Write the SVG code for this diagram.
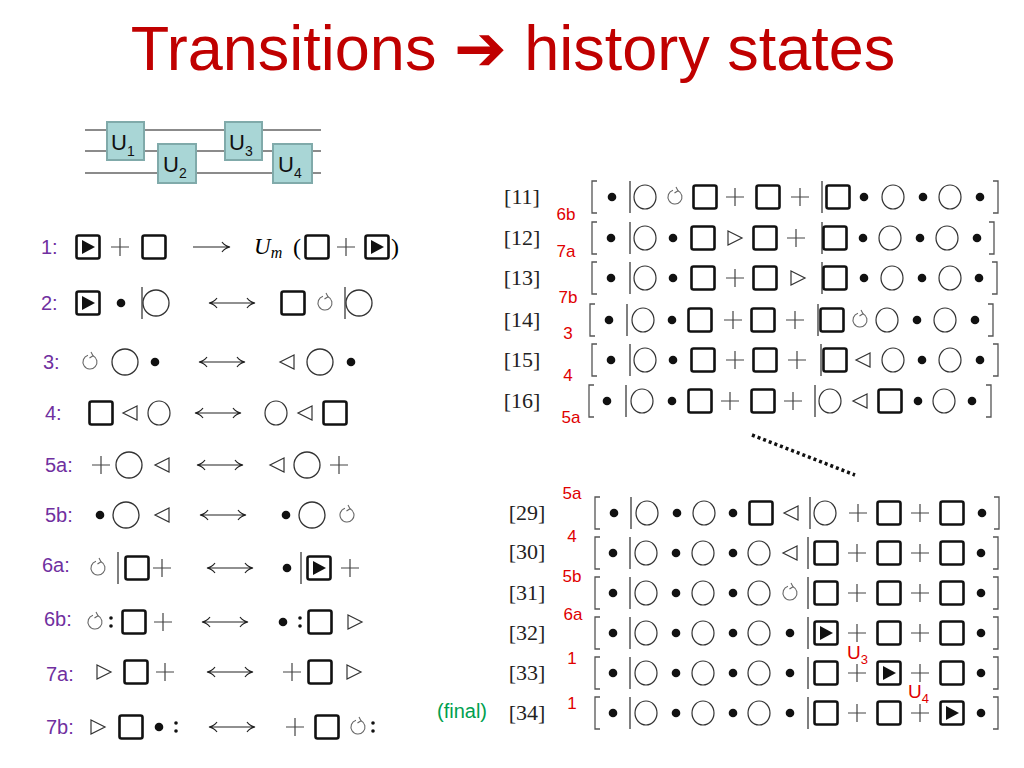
<svg xmlns="http://www.w3.org/2000/svg" xmlns:xlink="http://www.w3.org/1999/xlink" width="1024" height="768" viewBox="0 0 1024 768">
<style>
.t{font-family:"Liberation Sans",Arial,sans-serif}
.title{font-size:63px;fill:#c00000}
.lab{font-size:20px;fill:#7030a0}
.red{font-size:17px;fill:#e00000}
.ref{font-family:"Liberation Serif",serif;font-size:22px;fill:#222}
.w{stroke:#666;stroke-width:1.5;fill:none}
.gate{fill:#a9d6d6;stroke:#80aaaa;stroke-width:2}
.gl{font-size:22px;fill:#111}
.ln{stroke:#222;stroke-width:1.2;fill:none}
</style>
<defs>
<g id="sq"><rect x="-11.5" y="-11.5" width="23" height="23" rx="2" fill="#fff" stroke="#111" stroke-width="2.6"/></g>
<g id="sqp"><use href="#sq"/><polygon points="-6,-7 7,0 -6,7" fill="#111"/></g>
<g id="ci"><ellipse rx="11" ry="12" fill="none" stroke="#333" stroke-width="1.2"/></g>
<g id="cb"><circle r="13" fill="none" stroke="#333" stroke-width="1.3"/></g>
<g id="dt"><circle r="4.3" fill="#111"/></g>
<g id="pl"><path d="M-9,0H9M0,-9V9" stroke="#444" stroke-width="1.2"/></g>
<g id="lt"><polygon points="7,-7 -7,0 7,7" fill="none" stroke="#333" stroke-width="1.2"/></g>
<g id="rt"><polygon points="-7,-7 7,0 -7,7" fill="none" stroke="#333" stroke-width="1.2"/></g>
<g id="ro"><path d="M3,-6.3A7,7 0 1 1 -2,-6.7" fill="none" stroke="#666" stroke-width="1.1"/><path d="M1,-10L3,-6.3L-0.5,-4" fill="none" stroke="#666" stroke-width="1.1"/></g>
<g id="bar"><path d="M0,-16V16" stroke="#555" stroke-width="1.5"/></g>
<g id="bl"><path d="M5,-16H0V16H5" fill="none" stroke="#555" stroke-width="1.3"/></g>
<g id="brr"><path d="M-5,-16H0V16H-5" fill="none" stroke="#555" stroke-width="1.3"/></g>
<g id="cl"><circle cx="0" cy="-4" r="1.8" fill="#111"/><circle cx="0" cy="4" r="1.8" fill="#111"/></g>
<g id="ar"><path d="M-18,0H18M11,-5Q14,-1 19,0Q14,1 11,5" class="ln"/></g>
<g id="da"><path d="M-22,0H22M15,-5Q18,-1 23,0Q18,1 15,5M-15,-5Q-18,-1 -23,0Q-18,1 -15,5" class="ln"/></g>
</defs>

<text class="t title" x="513" y="70" text-anchor="middle">Transitions <tspan font-family="DejaVu Sans,sans-serif" font-weight="bold">➔</tspan> history states</text>

<g id="circuit">
<path class="w" d="M85,130H321M85,151H321M85,173H321"/>
<g id="U1"><rect class="gate" x="107" y="122" width="37" height="38"/><text class="t gl" x="111" y="150">U<tspan font-size="14" dy="6">1</tspan></text></g>
<g id="U2"><rect class="gate" x="158" y="144" width="38" height="39"/><text class="t gl" x="163" y="172">U<tspan font-size="14" dy="6">2</tspan></text></g>
<g id="U3"><rect class="gate" x="225" y="122" width="37" height="38"/><text class="t gl" x="229" y="150">U<tspan font-size="14" dy="6">3</tspan></text></g>
<g id="U4"><rect class="gate" x="273" y="144" width="39" height="39"/><text class="t gl" x="278" y="172">U<tspan font-size="14" dy="6">4</tspan></text></g>
</g>

<g id="rules">
<g transform="translate(0,247)"><text class="t lab" x="41" y="7">1:</text><use href="#sqp" x="88"/><use href="#pl" x="120"/><use href="#sq" x="154"/><use href="#ar" x="211"/><text x="254" y="7" font-family="Liberation Serif,serif" font-size="23" font-style="italic">U<tspan font-size="16" dy="4">m</tspan></text><text x="293" y="8" font-family="Liberation Serif,serif" font-size="24">(</text><use href="#sq" x="317"/><use href="#pl" x="346"/><use href="#sqp" x="377"/><text x="391" y="8" font-family="Liberation Serif,serif" font-size="24">)</text></g>
<g transform="translate(0,303)"><text class="t lab" x="41" y="7">2:</text><use href="#sqp" x="88"/><use href="#dt" x="121"/><use href="#bar" x="142"/><use href="#cb" x="156"/><use href="#da" x="232"/><use href="#sq" x="293"/><use href="#ro" x="325"/><use href="#bar" x="345"/><use href="#cb" x="359"/></g>
<g transform="translate(0,362)"><text class="t lab" x="43" y="7">3:</text><use href="#ro" x="90"/><use href="#cb" x="125"/><use href="#dt" x="155"/><use href="#da" x="222"/><use href="#lt" x="287"/><use href="#cb" x="320"/><use href="#dt" x="351"/></g>
<g transform="translate(0,413)"><text class="t lab" x="45" y="7">4:</text><use href="#sq" x="101"/><use href="#lt" x="130"/><use href="#ci" x="159"/><use href="#da" x="218"/><use href="#ci" x="276"/><use href="#lt" x="305"/><use href="#sq" x="335"/></g>
<g transform="translate(0,465)"><text class="t lab" x="45" y="7">5a:</text><use href="#pl" x="101"/><use href="#cb" x="129"/><use href="#lt" x="162"/><use href="#da" x="220"/><use href="#lt" x="277"/><use href="#cb" x="307"/><use href="#pl" x="339"/></g>
<g transform="translate(0,515)"><text class="t lab" x="45" y="7">5b:</text><use href="#dt" x="100"/><use href="#cb" x="126"/><use href="#lt" x="162"/><use href="#da" x="223"/><use href="#dt" x="286"/><use href="#cb" x="312"/><use href="#ro" x="347"/></g>
<g transform="translate(0,568)"><text class="t lab" x="42" y="4">6a:</text><use href="#ro" x="98"/><use href="#bar" x="118"/><use href="#sq" x="137"/><use href="#pl" x="162"/><use href="#da" x="230"/><use href="#dt" x="287"/><use href="#bar" x="301"/><use href="#sqp" x="319"/><use href="#pl" x="350"/></g>
<g transform="translate(0,622)"><text class="t lab" x="44" y="4">6b:</text><use href="#ro" x="95"/><use href="#cl" x="111"/><use href="#sq" x="134"/><use href="#pl" x="163"/><use href="#da" x="225"/><use href="#dt" x="283"/><use href="#cl" x="300"/><use href="#sq" x="320"/><use href="#rt" x="355"/></g>
<g transform="translate(0,672)"><text class="t lab" x="46" y="9">7a:</text><use href="#rt" x="104"/><use href="#sq" x="136"/><use href="#pl" x="165"/><use href="#da" x="230"/><use href="#pl" x="292"/><use href="#sq" x="320"/><use href="#rt" x="354"/></g>
<g transform="translate(0,727)"><text class="t lab" x="46" y="7">7b:</text><use href="#rt" x="98"/><use href="#sq" x="131"/><use href="#dt" x="159"/><use href="#cl" x="176"/><use href="#da" x="232"/><use href="#pl" x="295"/><use href="#sq" x="327"/><use href="#ro" x="358"/><use href="#cl" x="373"/></g>
</g>

<g id="table1">
<g class="ref"><text x="522" y="204" text-anchor="middle">[11]</text><text x="522" y="245" text-anchor="middle">[12]</text><text x="522" y="285" text-anchor="middle">[13]</text><text x="522" y="327" text-anchor="middle">[14]</text><text x="522" y="367" text-anchor="middle">[15]</text><text x="522" y="408" text-anchor="middle">[16]</text></g>
<g class="t red" text-anchor="middle"><text x="566" y="220">6b</text><text x="566" y="257">7a</text><text x="568" y="303">7b</text><text x="568" y="339">3</text><text x="568" y="381">4</text><text x="571" y="423">5a</text></g>
<g transform="translate(0,197)"><use href="#bl" x="592"/><use href="#dt" x="612"/><use href="#bar" x="630"/><use href="#ci" x="645"/><use href="#ro" x="675"/><use href="#sq" x="705"/><use href="#pl" x="735"/><use href="#sq" x="768"/><use href="#pl" x="800"/><use href="#bar" x="822"/><use href="#sq" x="838"/><use href="#dt" x="864"/><use href="#ci" x="893"/><use href="#dt" x="923"/><use href="#ci" x="950"/><use href="#dt" x="980"/><use href="#brr" x="998"/></g>
<g transform="translate(0,238)"><use href="#bl" x="592"/><use href="#dt" x="611"/><use href="#bar" x="630"/><use href="#ci" x="645"/><use href="#dt" x="673"/><use href="#sq" x="703"/><use href="#rt" x="735"/><use href="#sq" x="765"/><use href="#pl" x="796"/><use href="#bar" x="822"/><use href="#sq" x="835"/><use href="#dt" x="863"/><use href="#ci" x="890"/><use href="#dt" x="920"/><use href="#ci" x="947"/><use href="#dt" x="977"/><use href="#brr" x="994"/></g>
<g transform="translate(0,278)"><use href="#bl" x="592"/><use href="#dt" x="611"/><use href="#bar" x="630"/><use href="#ci" x="645"/><use href="#dt" x="673"/><use href="#sq" x="703"/><use href="#pl" x="735"/><use href="#sq" x="765"/><use href="#rt" x="798"/><use href="#bar" x="822"/><use href="#sq" x="835"/><use href="#dt" x="864"/><use href="#ci" x="892"/><use href="#dt" x="922"/><use href="#ci" x="950"/><use href="#dt" x="979"/><use href="#brr" x="997"/></g>
<g transform="translate(0,320)"><use href="#bl" x="590"/><use href="#dt" x="609"/><use href="#bar" x="627"/><use href="#ci" x="643"/><use href="#dt" x="672"/><use href="#sq" x="700"/><use href="#pl" x="733"/><use href="#sq" x="763"/><use href="#pl" x="795"/><use href="#bar" x="818"/><use href="#sq" x="832"/><use href="#ro" x="860"/><use href="#ci" x="887"/><use href="#dt" x="917"/><use href="#ci" x="945"/><use href="#dt" x="975"/><use href="#brr" x="993"/></g>
<g transform="translate(0,360)"><use href="#bl" x="592"/><use href="#dt" x="611"/><use href="#bar" x="630"/><use href="#ci" x="645"/><use href="#dt" x="673"/><use href="#sq" x="703"/><use href="#pl" x="735"/><use href="#sq" x="765"/><use href="#pl" x="797"/><use href="#bar" x="821"/><use href="#sq" x="835"/><use href="#lt" x="863"/><use href="#ci" x="893"/><use href="#dt" x="922"/><use href="#ci" x="950"/><use href="#dt" x="980"/><use href="#brr" x="998"/></g>
<g transform="translate(0,401)"><use href="#bl" x="589"/><use href="#dt" x="607"/><use href="#bar" x="626"/><use href="#ci" x="642"/><use href="#dt" x="672"/><use href="#sq" x="700"/><use href="#pl" x="730"/><use href="#sq" x="763"/><use href="#pl" x="793"/><use href="#bar" x="815"/><use href="#ci" x="830"/><use href="#lt" x="860"/><use href="#sq" x="890"/><use href="#dt" x="918"/><use href="#ci" x="944"/><use href="#dt" x="972"/><use href="#brr" x="991"/></g>
</g>

<g id="connectors"><path d="M752,435L855,475" stroke="#111" stroke-width="3.5" stroke-dasharray="3,3" fill="none"/></g>

<g id="table2">
<g class="ref"><text x="527" y="520" text-anchor="middle">[29]</text><text x="527" y="559" text-anchor="middle">[30]</text><text x="527" y="600" text-anchor="middle">[31]</text><text x="527" y="640" text-anchor="middle">[32]</text><text x="527" y="680" text-anchor="middle">[33]</text><text x="527" y="720" text-anchor="middle">[34]</text></g>
<g class="t red" text-anchor="middle"><text x="572" y="499">5a</text><text x="572" y="542">4</text><text x="572" y="582">5b</text><text x="573" y="620">6a</text><text x="572" y="664">1</text><text x="572" y="709">1</text></g>
<text class="t" x="462" y="718" text-anchor="middle" font-size="20" fill="#00a050">(final)</text>
<g transform="translate(0,513)"><use href="#bl" x="595"/><use href="#dt" x="614"/><use href="#bar" x="631"/><use href="#ci" x="647"/><use href="#dt" x="677"/><use href="#ci" x="704"/><use href="#dt" x="733"/><use href="#sq" x="761"/><use href="#lt" x="791"/><use href="#bar" x="810"/><use href="#ci" x="825"/><use href="#pl" x="858"/><use href="#sq" x="889"/><use href="#pl" x="920"/><use href="#sq" x="952"/><use href="#dt" x="982"/><use href="#brr" x="999"/></g>
<g transform="translate(0,553)"><use href="#bl" x="595"/><use href="#dt" x="613"/><use href="#bar" x="630"/><use href="#ci" x="646"/><use href="#dt" x="676"/><use href="#ci" x="703"/><use href="#dt" x="733"/><use href="#ci" x="759"/><use href="#lt" x="790"/><use href="#bar" x="808"/><use href="#sq" x="826"/><use href="#pl" x="857"/><use href="#sq" x="889"/><use href="#pl" x="920"/><use href="#sq" x="952"/><use href="#dt" x="981"/><use href="#brr" x="998"/></g>
<g transform="translate(0,593)"><use href="#bl" x="595"/><use href="#dt" x="613"/><use href="#bar" x="630"/><use href="#ci" x="646"/><use href="#dt" x="676"/><use href="#ci" x="703"/><use href="#dt" x="733"/><use href="#ci" x="759"/><use href="#ro" x="790"/><use href="#bar" x="808"/><use href="#sq" x="826"/><use href="#pl" x="857"/><use href="#sq" x="889"/><use href="#pl" x="920"/><use href="#sq" x="952"/><use href="#dt" x="981"/><use href="#brr" x="998"/></g>
<g transform="translate(0,633)"><use href="#bl" x="595"/><use href="#dt" x="613"/><use href="#bar" x="630"/><use href="#ci" x="646"/><use href="#dt" x="676"/><use href="#ci" x="703"/><use href="#dt" x="733"/><use href="#ci" x="759"/><use href="#dt" x="790"/><use href="#bar" x="808"/><use href="#sqp" x="826"/><use href="#pl" x="857"/><use href="#sq" x="889"/><use href="#pl" x="920"/><use href="#sq" x="952"/><use href="#dt" x="981"/><use href="#brr" x="998"/></g>
<g transform="translate(0,673)"><use href="#bl" x="595"/><use href="#dt" x="613"/><use href="#bar" x="630"/><use href="#ci" x="646"/><use href="#dt" x="676"/><use href="#ci" x="703"/><use href="#dt" x="733"/><use href="#ci" x="759"/><use href="#dt" x="790"/><use href="#bar" x="808"/><use href="#sq" x="826"/><use href="#pl" x="857"/><use href="#sqp" x="889"/><use href="#pl" x="920"/><use href="#sq" x="952"/><use href="#dt" x="981"/><use href="#brr" x="998"/></g>
<g transform="translate(0,713)"><use href="#bl" x="595"/><use href="#dt" x="613"/><use href="#bar" x="630"/><use href="#ci" x="646"/><use href="#dt" x="676"/><use href="#ci" x="703"/><use href="#dt" x="733"/><use href="#ci" x="759"/><use href="#dt" x="790"/><use href="#bar" x="808"/><use href="#sq" x="826"/><use href="#pl" x="857"/><use href="#sq" x="889"/><use href="#pl" x="920"/><use href="#sqp" x="952"/><use href="#dt" x="981"/><use href="#brr" x="998"/></g>
<text class="t" x="847" y="659" font-size="19" fill="#e00000">U<tspan font-size="13" dy="5">3</tspan></text>
<text class="t" x="908" y="698" font-size="19" fill="#e00000">U<tspan font-size="13" dy="5">4</tspan></text>
</g>
</svg>
